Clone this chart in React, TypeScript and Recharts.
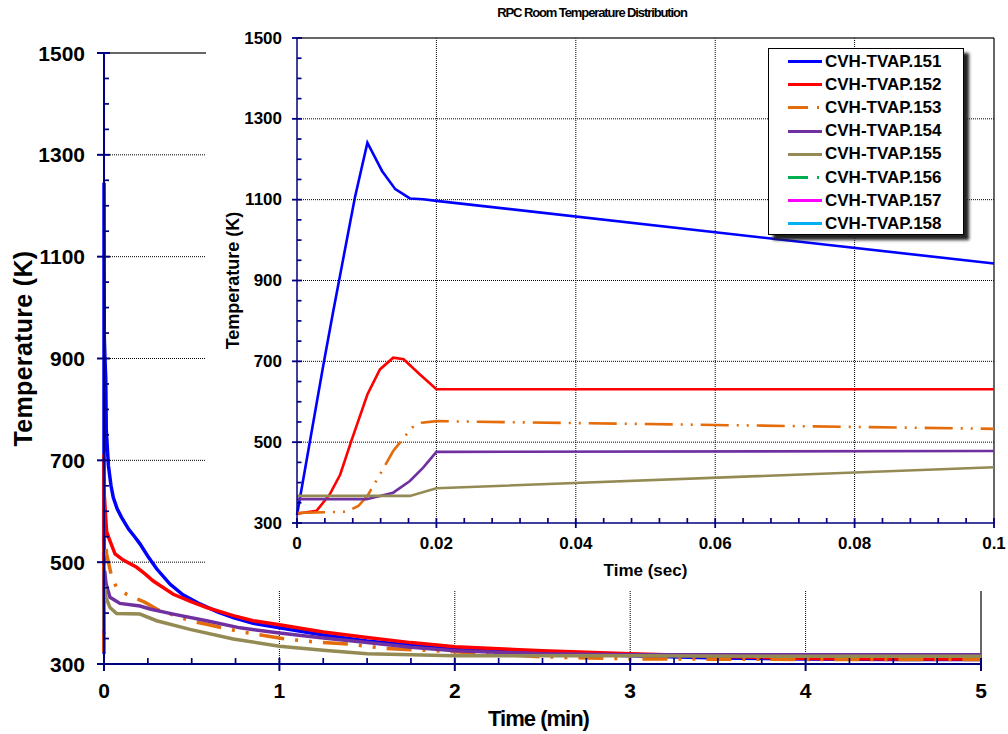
import React from 'react';
import { LineChart, Line, XAxis, YAxis, ReferenceLine, Legend, Label } from 'recharts';

const FONT = 'Arial, "Liberation Sans", Helvetica, sans-serif';
const AXIS = '#000080';

const seriesNames = ['CVH-TVAP.151', 'CVH-TVAP.152', 'CVH-TVAP.153', 'CVH-TVAP.154', 'CVH-TVAP.155', 'CVH-TVAP.156', 'CVH-TVAP.157', 'CVH-TVAP.158'];
const seriesColors = ['#0000FF', '#FF0000', '#E46C0A', '#7030A0', '#948A54', '#00B050', '#FF00FF', '#00B0F0'];
const seriesDashed = [false, false, true, false, false, true, false, false];

// Main chart: time (min), temperature (K)
const main151 = [[0, 320], [0.0002, 1245], [0.0017, 940], [0.005, 905], [0.01, 860], [0.013, 760], [0.025, 690], [0.04, 650], [0.053, 627], [0.075, 605], [0.1, 588], [0.14, 565], [0.177, 549], [0.205, 536], [0.253, 510], [0.3, 487], [0.376, 457], [0.45, 436], [0.547, 418], [0.65, 402], [0.737, 391], [0.85, 380], [1.0, 371], [1.25, 357], [1.5, 345], [1.75, 337], [2.0, 331], [2.5, 322], [3.0, 316], [3.5, 312], [4.0, 310], [4.5, 309], [5.0, 309]];
const main152 = [[0, 323], [0.0002, 712], [0.0017, 631], [0.004, 620], [0.007, 601], [0.015, 560], [0.034, 542], [0.063, 516], [0.11, 504], [0.186, 490], [0.234, 477], [0.281, 463], [0.395, 437], [0.5, 422], [0.585, 411], [0.737, 395], [0.85, 385], [1.0, 377], [1.25, 363], [1.5, 352], [1.75, 342], [2.0, 334], [2.5, 326], [3.0, 320], [3.5, 315], [4.0, 311], [4.5, 310], [5.0, 310]];
const main153 = [[0, 323], [0.0005, 325], [0.0017, 533], [0.004, 550], [0.015, 516], [0.044, 471], [0.072, 450], [0.129, 437], [0.234, 421], [0.31, 406], [0.49, 385], [0.585, 378], [0.757, 365], [0.928, 355], [1.04, 349], [1.21, 343], [1.4, 339], [1.59, 331], [2.0, 324], [2.5, 314], [3.0, 310], [4.0, 309], [5.0, 309]];
const main154 = [[0, 359], [0.0002, 360], [0.0017, 478], [0.004, 483], [0.012, 457], [0.034, 431], [0.091, 419], [0.205, 414], [0.262, 408], [0.395, 398], [0.585, 385], [0.775, 371], [1.0, 361], [1.25, 351], [1.5, 342], [1.75, 333], [2.0, 326], [2.5, 320], [3.0, 318], [4.0, 318], [5.0, 318]];
const main155 = [[0, 367], [0.0002, 367], [0.0017, 436], [0.004, 454], [0.012, 430], [0.034, 411], [0.072, 399], [0.205, 398], [0.3, 385], [0.49, 368], [0.737, 349], [1.0, 335], [1.25, 327], [1.5, 320], [2.0, 316], [3.0, 316], [4.0, 315], [5.0, 315]];
const mainSeries = [main151, main152, main153, main154, main155];

// Inset chart: time (sec), temperature (K)
const inset151 = [[0, 320], [0.0038, 693], [0.0052, 824], [0.0083, 1105], [0.0101, 1241], [0.0122, 1171], [0.0141, 1126], [0.0162, 1103], [0.0181, 1101], [0.02, 1097], [0.1, 942]];
const inset152 = [[0, 323], [0.0028, 330], [0.0047, 371], [0.0062, 420], [0.0078, 503], [0.0101, 618], [0.0119, 680], [0.0138, 709], [0.0153, 705], [0.0176, 668], [0.02, 631], [0.1, 631]];
const inset153 = [[0, 325], [0.0071, 328], [0.0088, 342], [0.0101, 367], [0.0122, 429], [0.0138, 478], [0.0165, 536], [0.0179, 548], [0.02, 552], [0.1, 533]];
const inset154 = [[0, 359], [0.01, 359], [0.0138, 375], [0.0162, 404], [0.0181, 437], [0.02, 476], [0.1, 478]];
const inset155 = [[0, 367], [0.0162, 367], [0.02, 386], [0.1, 438]];
const insetSeries = [inset151, inset152, inset153, inset154, inset155];

// Ticks
const mainYTicks = [300, 350, 400, 450, 500, 550, 600, 650, 700, 750, 800, 850, 900, 950, 1000, 1050, 1100, 1150, 1200, 1250, 1300, 1350, 1400, 1450, 1500];
const mainYMajor = [300, 500, 700, 900, 1100, 1300, 1500];
const mainXTicks = [0, 0.25, 0.5, 0.75, 1, 1.25, 1.5, 1.75, 2, 2.25, 2.5, 2.75, 3, 3.25, 3.5, 3.75, 4, 4.25, 4.5, 4.75, 5];
const mainXMajor = [0, 1, 2, 3, 4, 5];
const mainYGrid = [500, 700, 900, 1100, 1300];
const mainXGrid = [1, 2, 3, 4];

const insetYTicks = mainYTicks;
const insetYMajor = mainYMajor;
const insetXTicks = [0, 0.004, 0.008, 0.012, 0.016, 0.02, 0.024, 0.028, 0.032, 0.036, 0.04, 0.044, 0.048, 0.052, 0.056, 0.06, 0.064, 0.068, 0.072, 0.076, 0.08, 0.084, 0.088, 0.092, 0.096, 0.1];
const insetXMajor = [0, 0.02, 0.04, 0.06, 0.08, 0.1];
const insetXLabels = ['0', '0.02', '0.04', '0.06', '0.08', '0.1'];
const insetYGrid = [500, 700, 900, 1100, 1300];
const insetXGrid = [0.02, 0.04, 0.06, 0.08];

const pts = (arr: number[][]) => arr.map(([x, y]) => ({ x, y }));
const idxIn = (v: number, arr: number[]) => arr.findIndex((a) => Math.abs(a - v) < 1e-9);

const YTick = (p: any) => {
  const { x, y, payload, majors, fs, out, inn, minor, gap, sw } = p;
  const v = payload.value;
  const maj = idxIn(v, majors) >= 0;
  return (
    <g>
      {maj ? (
        <line x1={x - out} x2={x + inn} y1={y} y2={y} stroke={AXIS} strokeWidth={sw} />
      ) : (
        <line x1={x} x2={x + minor} y1={y} y2={y} stroke={AXIS} strokeWidth={1.7} />
      )}
      {maj && (
        <text x={x - gap} y={y} textAnchor="end" dominantBaseline="central" fontFamily={FONT} fontWeight="bold" fontSize={fs} fill="#000">
          {v}
        </text>
      )}
    </g>
  );
};

const XTick = (p: any) => {
  const { x, y, payload, majors, labels, fs, out, inn, minor, gap, sw } = p;
  const v = payload.value;
  const k = idxIn(v, majors);
  const maj = k >= 0;
  return (
    <g>
      {maj ? (
        <line x1={x} x2={x} y1={y - inn} y2={y + out} stroke={AXIS} strokeWidth={sw} />
      ) : (
        <line x1={x} x2={x} y1={y} y2={y - minor} stroke={AXIS} strokeWidth={1.7} />
      )}
      {maj && (
        <text x={x} y={y + gap} textAnchor="middle" dominantBaseline="central" fontFamily={FONT} fontWeight="bold" fontSize={fs} fill="#000">
          {labels ? labels[k] : v}
        </text>
      )}
    </g>
  );
};

const LegendBox = () => (
  <div
    style={{
      width: 196,
      height: 187,
      boxSizing: 'border-box',
      border: '1.5px solid #000',
      background: '#fff',
      boxShadow: '5px 5px 3px #222',
      paddingTop: 1,
      fontFamily: FONT,
    }}
  >
    {seriesNames.map((n, i) => (
      <div key={n} style={{ height: 23.2, display: 'flex', alignItems: 'center', position: 'relative' }}>
        <svg width={56} height={23} style={{ display: 'block' }}>
          <line
            x1={19}
            x2={53}
            y1={11.5}
            y2={11.5}
            stroke={seriesColors[i]}
            strokeWidth={2.8}
            strokeDasharray={seriesDashed[i] ? '20 9 2 9' : undefined}
          />
        </svg>
        <span style={{ fontWeight: 'bold', fontSize: 17, color: '#000', whiteSpace: 'nowrap', marginLeft: 0 }}>{n}</span>
      </div>
    ))}
  </div>
);

export default function App() {
  return (
    <div style={{ position: 'absolute', left: 0, top: 0, width: 1008, height: 734, overflow: 'hidden', background: '#fff' }}>
      <div style={{ position: 'absolute', left: 0, top: 0 }}>
        <LineChart width={1008} height={734} margin={{ top: 53, right: 27, bottom: 30, left: 44 }}>
          <XAxis
            dataKey="x"
            type="number"
            domain={[0, 5]}
            ticks={mainXTicks}
            interval={0}
            height={40}
            tickSize={0}
            tickMargin={0}
            tickLine={false}
            axisLine={{ stroke: AXIS, strokeWidth: 2 }}
            tick={(p: any) => <XTick {...p} majors={mainXMajor} fs={21} out={7} inn={6} minor={6} gap={26} sw={2} />}
          >
            <Label
              content={(p: any) => {
                const vb = p.viewBox || { x: 104, y: 664, width: 877 };
                return (
                  <text x={vb.x + vb.width / 2 - 4} y={vb.y + 54} textAnchor="middle" dominantBaseline="central" fontFamily={FONT} fontWeight="bold" fontSize={22} letterSpacing={-1} fill="#000">
                    Time (min)
                  </text>
                );
              }}
            />
          </XAxis>
          <YAxis
            type="number"
            domain={[300, 1500]}
            ticks={mainYTicks}
            interval={0}
            width={60}
            tickSize={0}
            tickMargin={0}
            tickLine={false}
            axisLine={{ stroke: AXIS, strokeWidth: 2 }}
            tick={(p: any) => <YTick {...p} majors={mainYMajor} fs={21} out={7} inn={6} minor={5} gap={19} sw={2} />}
          >
            <Label
              content={(p: any) => {
                const vb = p.viewBox || { x: 44, y: 53, height: 611 };
                const cx = vb.x - 21.5;
                const cy = vb.y + vb.height / 2 - 10;
                return (
                  <text x={cx} y={cy} transform={`rotate(-90 ${cx} ${cy})`} textAnchor="middle" dominantBaseline="central" fontFamily={FONT} fontWeight="bold" fontSize={25} letterSpacing={0.3} fill="#000">
                    Temperature (K)
                  </text>
                );
              }}
            />
          </YAxis>
          {mainYGrid.map((v) => (
            <ReferenceLine key={'my' + v} y={v} stroke="#000" strokeWidth={1} strokeDasharray="1 1" />
          ))}
          {mainXGrid.map((v) => (
            <ReferenceLine key={'mx' + v} x={v} stroke="#000" strokeWidth={1} strokeDasharray="1 1" />
          ))}
          <ReferenceLine y={1500} stroke="#333" strokeWidth={1.5} />
          <ReferenceLine x={5} stroke="#000" strokeWidth={1.2} />
          {mainSeries.map((s, i) => (
            <Line
              key={'m' + i}
              data={pts(s)}
              dataKey="y"
              type="linear"
              stroke={seriesColors[i]}
              strokeWidth={3.5}
              strokeDasharray={seriesDashed[i] ? '25 11 3 11 3 11' : undefined}
              dot={false}
              activeDot={false}
              isAnimationActive={false}
            />
          ))}
        </LineChart>
      </div>

      <div style={{ position: 'absolute', left: 206, top: 0, width: 802, height: 591, background: '#fff', zIndex: 1 }}>
        <LineChart width={802} height={591} margin={{ top: 38, right: 14, bottom: 38, left: 31 }}>
          <XAxis
            dataKey="x"
            type="number"
            domain={[0, 0.1]}
            ticks={insetXTicks}
            interval={0}
            height={30}
            tickSize={0}
            tickMargin={0}
            tickLine={false}
            axisLine={{ stroke: AXIS, strokeWidth: 1.5 }}
            tick={(p: any) => <XTick {...p} majors={insetXMajor} labels={insetXLabels} fs={17} out={5} inn={5} minor={5} gap={20} sw={1.8} />}
          >
            <Label
              content={(p: any) => {
                const vb = p.viewBox || { x: 91, y: 523, width: 697 };
                return (
                  <text x={vb.x + vb.width / 2} y={vb.y + 47.5} textAnchor="middle" dominantBaseline="central" fontFamily={FONT} fontWeight="bold" fontSize={17} fill="#000">
                    Time (sec)
                  </text>
                );
              }}
            />
          </XAxis>
          <YAxis
            type="number"
            domain={[300, 1500]}
            ticks={insetYTicks}
            interval={0}
            width={60}
            tickSize={0}
            tickMargin={0}
            tickLine={false}
            axisLine={{ stroke: AXIS, strokeWidth: 1.5 }}
            tick={(p: any) => <YTick {...p} majors={insetYMajor} fs={17} out={5} inn={5} minor={4.5} gap={15} sw={1.8} />}
          >
            <Label
              content={(p: any) => {
                const vb = p.viewBox || { x: 31, y: 38, height: 485 };
                const cx = vb.x - 4;
                const cy = vb.y + vb.height / 2;
                return (
                  <text x={cx} y={cy} transform={`rotate(-90 ${cx} ${cy})`} textAnchor="middle" dominantBaseline="central" fontFamily={FONT} fontWeight="bold" fontSize={18} fill="#000">
                    Temperature (K)
                  </text>
                );
              }}
            />
          </YAxis>
          {insetYGrid.map((v) => (
            <ReferenceLine key={'iy' + v} y={v} stroke="#000" strokeWidth={1} strokeDasharray="1 1" />
          ))}
          {insetXGrid.map((v) => (
            <ReferenceLine key={'ix' + v} x={v} stroke="#000" strokeWidth={1} strokeDasharray="1 1" />
          ))}
          <ReferenceLine y={1500} stroke="#333" strokeWidth={1.5} />
          <ReferenceLine x={0.1} stroke="#000" strokeWidth={1.2} />
          {insetSeries.map((s, i) => (
            <Line
              key={'i' + i}
              data={pts(s)}
              dataKey="y"
              type="linear"
              stroke={seriesColors[i]}
              strokeWidth={2.6}
              strokeDasharray={seriesDashed[i] ? '28 8 2 8 2 8' : undefined}
              dot={false}
              activeDot={false}
              isAnimationActive={false}
            />
          ))}
          <Legend
            layout="horizontal"
            verticalAlign="middle"
            align="center"
            content={() => <LegendBox />}
            wrapperStyle={{ left: 562, top: 48, width: 196, height: 187 }}
          />
        </LineChart>
        <div
          style={{
            position: 'absolute',
            left: 286,
            top: 5,
            width: 200,
            textAlign: 'center',
            fontFamily: FONT,
            fontWeight: 'bold',
            fontSize: 13,
            letterSpacing: -1.1,
            lineHeight: '16px',
            color: '#000',
            whiteSpace: 'nowrap',
          }}
        >
          RPC Room Temperature Distribution
        </div>
      </div>
    </div>
  );
}
